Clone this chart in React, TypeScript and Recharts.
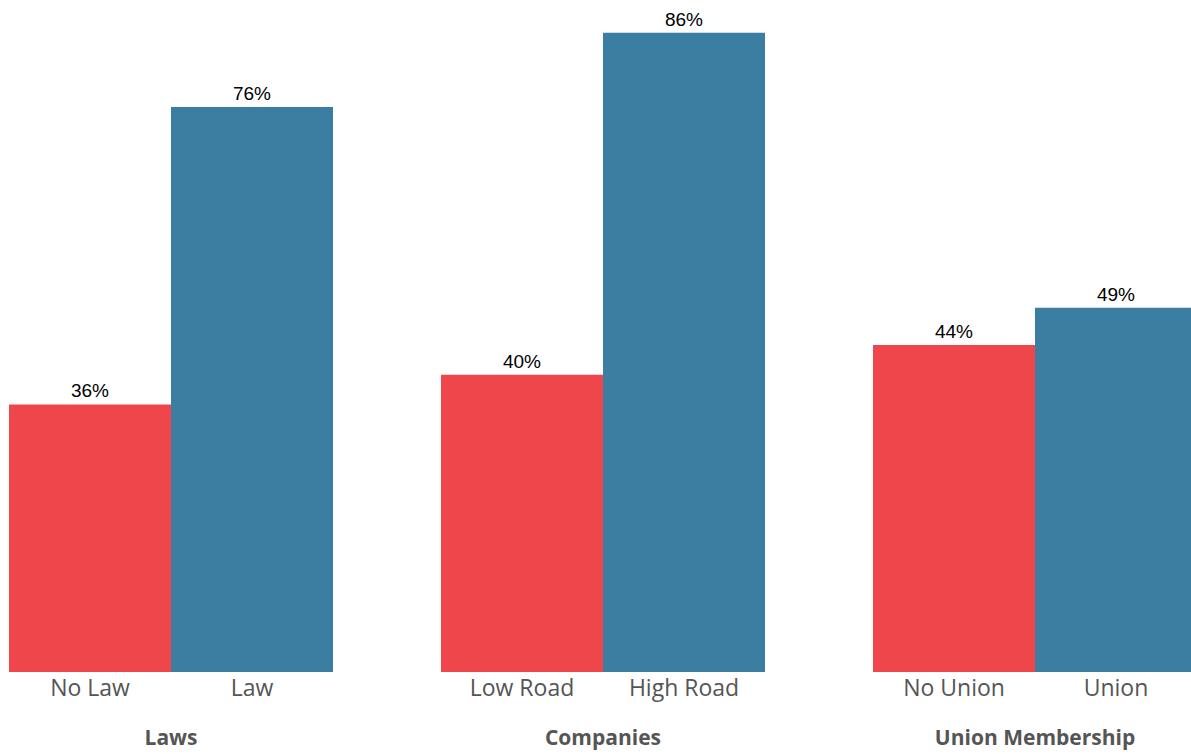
import { BarChart, Bar, XAxis, YAxis, LabelList } from "recharts";

// Share of workers, by policy group
const groups = ["Laws", "Companies", "Union Membership"];
const lowLabels = ["No Law", "Low Road", "No Union"];
const highLabels = ["Law", "High Road", "Union"];
const lowValues = [36, 40, 44];
const highValues = [76, 86, 49];

const RED = "#EF464C";
const BLUE = "#3C7EA1";
const LABEL_FONT = "'Open Sans', 'Noto Sans', sans-serif";
const VALUE_FONT = "'Liberation Sans', Arial, sans-serif";

const data = groups.map((g, i) => ({
  group: g,
  low: lowValues[i],
  high: highValues[i],
  lowLabel: lowLabels[i],
  highLabel: highLabels[i],
}));

/* eslint-disable @typescript-eslint/no-explicit-any */
function GroupTick({ x, payload }: any) {
  return (
    <text
      x={x}
      y={745}
      textAnchor="middle"
      fill="#555"
      fontSize={21}
      fontWeight={700}
      fontFamily={LABEL_FONT}
    >
      {payload.value}
    </text>
  );
}

const barName = (labels: string[]) => (props: any) => {
  const { x, y, width, height, index } = props;
  return (
    <text
      x={x + width / 2}
      y={y + height + 24}
      textAnchor="middle"
      fill="#555"
      fontSize={23}
      fontFamily={LABEL_FONT}
    >
      {labels[index]}
    </text>
  );
};
/* eslint-enable @typescript-eslint/no-explicit-any */

const valueLabel = {
  position: "top" as const,
  offset: 7,
  fill: "#000",
  fontSize: 19,
  fontFamily: VALUE_FONT,
  formatter: (v: number) => `${v}%`,
};

export default function App() {
  return (
    <div
      style={{
        position: "absolute",
        left: 0,
        top: 0,
        width: 1191,
        height: 754,
        overflow: "hidden",
        background: "#fff",
      }}
    >
      <div style={{ position: "absolute", left: -45, top: 0 }}>
        <BarChart
          width={1296}
          height={754}
          data={data}
          margin={{ top: 0, right: 0, bottom: 0, left: 0 }}
          barCategoryGap={54}
          barGap={0}
        >
          <XAxis
            dataKey="group"
            axisLine={false}
            tickLine={false}
            tick={<GroupTick />}
            height={82}
          />
          <YAxis hide domain={[0, 90.4]} />
          <Bar dataKey="low" fill={RED} isAnimationActive={false}>
            <LabelList {...valueLabel} dataKey="low" />
            <LabelList dataKey="low" content={barName(lowLabels)} />
          </Bar>
          <Bar dataKey="high" fill={BLUE} isAnimationActive={false}>
            <LabelList {...valueLabel} dataKey="high" />
            <LabelList dataKey="high" content={barName(highLabels)} />
          </Bar>
        </BarChart>
      </div>
    </div>
  );
}
